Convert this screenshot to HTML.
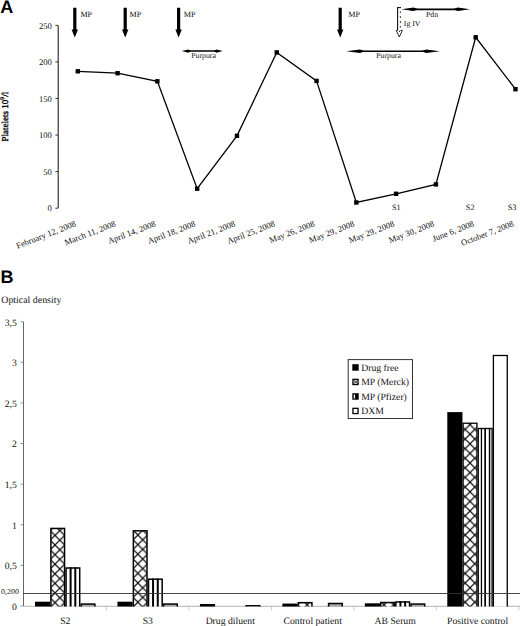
<!DOCTYPE html>
<html><head><meta charset="utf-8"><title>Figure</title>
<style>
html,body{margin:0;padding:0;background:#fff;}
body{width:520px;height:626px;overflow:hidden;font-family:"Liberation Serif", serif;}
svg{display:block;}
svg text{stroke:none;text-rendering:geometricPrecision;}
svg text.b{stroke:none;}
</style></head>
<body>
<svg width="520" height="626" viewBox="0 0 520 626">
<rect width="520" height="626" fill="#fff"/>
<text x="0.3" y="12.6" font-family='"Liberation Sans", sans-serif' font-weight="bold" font-size="18" class="b">A</text>
<line x1="58.2" y1="25.3" x2="58.2" y2="208.2" stroke="#222" stroke-width="1.1"/>
<line x1="55.4" y1="208.20" x2="58.0" y2="208.20" stroke="#333" stroke-width="1"/>
<text x="51.9" y="211.40" text-anchor="end" font-family='"Liberation Serif", serif' font-size="8.6" fill="#111">0</text>
<line x1="55.4" y1="171.62" x2="58.0" y2="171.62" stroke="#333" stroke-width="1"/>
<text x="51.9" y="174.82" text-anchor="end" font-family='"Liberation Serif", serif' font-size="8.6" fill="#111">50</text>
<line x1="55.4" y1="135.04" x2="58.0" y2="135.04" stroke="#333" stroke-width="1"/>
<text x="51.9" y="138.24" text-anchor="end" font-family='"Liberation Serif", serif' font-size="8.6" fill="#111">100</text>
<line x1="55.4" y1="98.46" x2="58.0" y2="98.46" stroke="#333" stroke-width="1"/>
<text x="51.9" y="101.66" text-anchor="end" font-family='"Liberation Serif", serif' font-size="8.6" fill="#111">150</text>
<line x1="55.4" y1="61.88" x2="58.0" y2="61.88" stroke="#333" stroke-width="1"/>
<text x="51.9" y="65.08" text-anchor="end" font-family='"Liberation Serif", serif' font-size="8.6" fill="#111">200</text>
<line x1="55.4" y1="25.30" x2="58.0" y2="25.30" stroke="#333" stroke-width="1"/>
<text x="51.9" y="28.50" text-anchor="end" font-family='"Liberation Serif", serif' font-size="8.6" fill="#111">250</text>
<text transform="translate(8.0,141.4) rotate(-90)" font-family='"Liberation Serif", serif' font-size="9" fill="#000" style="stroke:#000;stroke-width:0.35px">Platelets 10<tspan dy="-3.8" font-size="5.6">9</tspan><tspan dy="3.8">/l</tspan></text>
<polyline points="77.80,71.30 117.59,73.20 157.38,81.30 197.17,188.70 236.96,135.80 276.75,52.40 316.54,80.90 356.33,202.50 396.12,193.80 435.91,184.40 475.70,37.30 515.49,89.20" fill="none" stroke="#000" stroke-width="1.3" stroke-linejoin="miter"/>
<rect x="75.60" y="69.10" width="4.4" height="4.4" fill="#000"/>
<rect x="115.39" y="71.00" width="4.4" height="4.4" fill="#000"/>
<rect x="155.18" y="79.10" width="4.4" height="4.4" fill="#000"/>
<rect x="194.97" y="186.50" width="4.4" height="4.4" fill="#000"/>
<rect x="234.76" y="133.60" width="4.4" height="4.4" fill="#000"/>
<rect x="274.55" y="50.20" width="4.4" height="4.4" fill="#000"/>
<rect x="314.34" y="78.70" width="4.4" height="4.4" fill="#000"/>
<rect x="354.13" y="200.30" width="4.4" height="4.4" fill="#000"/>
<rect x="393.92" y="191.60" width="4.4" height="4.4" fill="#000"/>
<rect x="433.71" y="182.20" width="4.4" height="4.4" fill="#000"/>
<rect x="473.50" y="35.10" width="4.4" height="4.4" fill="#000"/>
<rect x="513.29" y="87.00" width="4.4" height="4.4" fill="#000"/>
<text transform="translate(76.60,226.0) rotate(-21)" text-anchor="end" font-family='"Liberation Serif", serif' font-size="8.6" fill="#111">February 12, 2008</text>
<text transform="translate(116.39,226.0) rotate(-21)" text-anchor="end" font-family='"Liberation Serif", serif' font-size="8.6" fill="#111">March 11, 2008</text>
<text transform="translate(156.18,226.0) rotate(-21)" text-anchor="end" font-family='"Liberation Serif", serif' font-size="8.6" fill="#111">April 14, 2008</text>
<text transform="translate(195.97,226.0) rotate(-21)" text-anchor="end" font-family='"Liberation Serif", serif' font-size="8.6" fill="#111">April 18, 2008</text>
<text transform="translate(235.76,226.0) rotate(-21)" text-anchor="end" font-family='"Liberation Serif", serif' font-size="8.6" fill="#111">April 21, 2008</text>
<text transform="translate(275.55,226.0) rotate(-21)" text-anchor="end" font-family='"Liberation Serif", serif' font-size="8.6" fill="#111">April 25, 2008</text>
<text transform="translate(315.34,226.0) rotate(-21)" text-anchor="end" font-family='"Liberation Serif", serif' font-size="8.6" fill="#111">May 26, 2008</text>
<text transform="translate(355.13,226.0) rotate(-21)" text-anchor="end" font-family='"Liberation Serif", serif' font-size="8.6" fill="#111">May 29, 2008</text>
<text transform="translate(394.92,226.0) rotate(-21)" text-anchor="end" font-family='"Liberation Serif", serif' font-size="8.6" fill="#111">May 29, 2008</text>
<text transform="translate(434.71,226.0) rotate(-21)" text-anchor="end" font-family='"Liberation Serif", serif' font-size="8.6" fill="#111">May 30, 2008</text>
<text transform="translate(474.50,226.0) rotate(-21)" text-anchor="end" font-family='"Liberation Serif", serif' font-size="8.6" fill="#111">June 6, 2008</text>
<text transform="translate(514.29,226.0) rotate(-21)" text-anchor="end" font-family='"Liberation Serif", serif' font-size="8.6" fill="#111">October 7, 2008</text>
<text x="396.4" y="209.6" text-anchor="middle" font-family='"Liberation Serif", serif' font-size="8.2" fill="#111">S1</text>
<text x="470.2" y="209.6" text-anchor="middle" font-family='"Liberation Serif", serif' font-size="8.2" fill="#111">S2</text>
<text x="512.0" y="209.6" text-anchor="middle" font-family='"Liberation Serif", serif' font-size="8.2" fill="#111">S3</text>
<path d="M73.20,7.7 L76.40,7.7 L76.40,29.50 L78.00,29.50 L74.80,37.5 L71.60,29.50 L73.20,29.50 Z" fill="#000"/>
<text x="80.40" y="16.6" font-family='"Liberation Serif", serif' font-size="8.1" fill="#111">MP</text>
<path d="M123.60,7.7 L126.80,7.7 L126.80,29.50 L128.40,29.50 L125.20,37.5 L122.00,29.50 L123.60,29.50 Z" fill="#000"/>
<text x="129.60" y="16.6" font-family='"Liberation Serif", serif' font-size="8.1" fill="#111">MP</text>
<path d="M177.00,7.7 L180.20,7.7 L180.20,29.50 L181.80,29.50 L178.60,37.5 L175.40,29.50 L177.00,29.50 Z" fill="#000"/>
<text x="183.80" y="16.6" font-family='"Liberation Serif", serif' font-size="8.1" fill="#111">MP</text>
<path d="M338.60,7.7 L341.80,7.7 L341.80,29.50 L343.40,29.50 L340.20,37.5 L337.00,29.50 L338.60,29.50 Z" fill="#000"/>
<text x="348.30" y="16.6" font-family='"Liberation Serif", serif' font-size="8.1" fill="#111">MP</text>
<line x1="186.30" y1="51.1" x2="218.30" y2="51.1" stroke="#000" stroke-width="1.5"/><path d="M181.80,51.1 L188.28,49.50 L190.80,51.1 L188.28,52.70 Z" fill="#000"/><path d="M222.80,51.1 L216.32,49.50 L213.80,51.1 L216.32,52.70 Z" fill="#000"/>
<text x="191.2" y="57.8" font-family='"Liberation Serif", serif' font-size="7.8" fill="#111">Purpura</text>
<line x1="355.70" y1="51.2" x2="430.40" y2="51.2" stroke="#000" stroke-width="1.5"/><path d="M346.20,51.2 L359.88,49.50 L365.20,51.2 L359.88,52.90 Z" fill="#000"/><path d="M439.90,51.2 L426.22,49.50 L420.90,51.2 L426.22,52.90 Z" fill="#000"/>
<text x="376.2" y="57.8" font-family='"Liberation Serif", serif' font-size="7.8" fill="#111">Purpura</text>
<line x1="409.90" y1="9.3" x2="461.50" y2="9.3" stroke="#000" stroke-width="1.8"/><path d="M401.40,9.3 L413.64,7.50 L418.40,9.3 L413.64,11.10 Z" fill="#000"/><path d="M470.00,9.3 L457.76,7.50 L453.00,9.3 L457.76,11.10 Z" fill="#000"/>
<text x="426" y="17.3" font-family='"Liberation Serif", serif' font-size="7.8" fill="#111">Pdn</text>
<path d="M397.6,7.6 V30.6" fill="none" stroke="#111" stroke-width="1.1"/>
<path d="M397.05,7.6 H400.95" fill="none" stroke="#111" stroke-width="1.1"/>
<path d="M400.4,7.6 V30.4" fill="none" stroke="#111" stroke-width="1.1" stroke-dasharray="1.4,3.5" stroke-dashoffset="1.05"/>
<path d="M397.6,30.4 H396.2 L399.3,37 L402.4,30.4 H400.4" fill="none" stroke="#111" stroke-width="0.9" stroke-linejoin="miter"/>
<rect x="398.9" y="30.8" width="1.1" height="1.1" fill="#222"/>
<text x="403.8" y="26.4" font-family='"Liberation Serif", serif' font-size="7.8" fill="#111">Ig IV</text>
<text x="0.5" y="283.0" font-family='"Liberation Sans", sans-serif' font-weight="bold" font-size="18" class="b">B</text>
<text x="1.3" y="303" font-family='"Liberation Serif", serif' font-size="9.9" fill="#111">Optical density</text>
<line x1="23.5" y1="321.69" x2="23.5" y2="606.0" stroke="#666" stroke-width="1"/>
<line x1="20.5" y1="606.00" x2="23.3" y2="606.00" stroke="#777" stroke-width="0.8"/>
<text x="16.8" y="609.90" text-anchor="end" font-family='"Liberation Serif", serif' font-size="9.7" fill="#111">0</text>
<line x1="20.5" y1="565.38" x2="23.3" y2="565.38" stroke="#777" stroke-width="0.8"/>
<text x="16.8" y="569.28" text-anchor="end" font-family='"Liberation Serif", serif' font-size="9.7" fill="#111">0,5</text>
<line x1="20.5" y1="524.77" x2="23.3" y2="524.77" stroke="#777" stroke-width="0.8"/>
<text x="16.8" y="528.67" text-anchor="end" font-family='"Liberation Serif", serif' font-size="9.7" fill="#111">1</text>
<line x1="20.5" y1="484.15" x2="23.3" y2="484.15" stroke="#777" stroke-width="0.8"/>
<text x="16.8" y="488.05" text-anchor="end" font-family='"Liberation Serif", serif' font-size="9.7" fill="#111">1,5</text>
<line x1="20.5" y1="443.54" x2="23.3" y2="443.54" stroke="#777" stroke-width="0.8"/>
<text x="16.8" y="447.44" text-anchor="end" font-family='"Liberation Serif", serif' font-size="9.7" fill="#111">2</text>
<line x1="20.5" y1="402.92" x2="23.3" y2="402.92" stroke="#777" stroke-width="0.8"/>
<text x="16.8" y="406.82" text-anchor="end" font-family='"Liberation Serif", serif' font-size="9.7" fill="#111">2,5</text>
<line x1="20.5" y1="362.31" x2="23.3" y2="362.31" stroke="#777" stroke-width="0.8"/>
<text x="16.8" y="366.21" text-anchor="end" font-family='"Liberation Serif", serif' font-size="9.7" fill="#111">3</text>
<line x1="20.5" y1="321.69" x2="23.3" y2="321.69" stroke="#777" stroke-width="0.8"/>
<text x="16.8" y="325.59" text-anchor="end" font-family='"Liberation Serif", serif' font-size="9.7" fill="#111">3,5</text>
<text x="1.0" y="593.6" textLength="18.0" lengthAdjust="spacingAndGlyphs" font-family='"Liberation Serif", serif' font-size="7.4" fill="#111">0,200</text>
<line x1="23.3" y1="606.3" x2="520" y2="606.3" stroke="#aaa" stroke-width="0.9"/>
<line x1="106.56" y1="606.0" x2="106.56" y2="610.5" stroke="#bbb" stroke-width="0.7"/>
<line x1="189.02" y1="606.0" x2="189.02" y2="610.5" stroke="#bbb" stroke-width="0.7"/>
<line x1="271.48" y1="606.0" x2="271.48" y2="610.5" stroke="#bbb" stroke-width="0.7"/>
<line x1="353.94" y1="606.0" x2="353.94" y2="610.5" stroke="#bbb" stroke-width="0.7"/>
<line x1="436.40" y1="606.0" x2="436.40" y2="610.5" stroke="#bbb" stroke-width="0.7"/>
<line x1="518.86" y1="606.0" x2="518.86" y2="610.5" stroke="#bbb" stroke-width="0.7"/>
<defs>
<pattern id="xh0" patternUnits="userSpaceOnUse" width="9.6" height="9.6" x="7.0" y="7.4">
<rect width="9.6" height="9.6" fill="#fff"/>
<path d="M-1,-1 L10.6,10.6 M10.6,-1 L-1,10.6" stroke="#111" stroke-width="1.2"/>
</pattern>
<pattern id="xh1" patternUnits="userSpaceOnUse" width="9.6" height="9.6" x="3.5" y="7.0">
<rect width="9.6" height="9.6" fill="#fff"/>
<path d="M-1,-1 L10.6,10.6 M10.6,-1 L-1,10.6" stroke="#111" stroke-width="1.2"/>
</pattern>
<pattern id="xh5" patternUnits="userSpaceOnUse" width="9.6" height="9.6" x="9.2" y="2.2">
<rect width="9.6" height="9.6" fill="#fff"/>
<path d="M-1,-1 L10.6,10.6 M10.6,-1 L-1,10.6" stroke="#111" stroke-width="1.2"/>
</pattern>
<pattern id="xh" patternUnits="userSpaceOnUse" width="9.6" height="9.6" x="0" y="0">
<rect width="9.6" height="9.6" fill="#fff"/>
<path d="M-1,-1 L10.6,10.6 M10.6,-1 L-1,10.6" stroke="#111" stroke-width="1.2"/>
</pattern>
<pattern id="vs" patternUnits="userSpaceOnUse" width="4.6" height="10" x="66.8">
<rect width="4.6" height="10" fill="#fff"/>
<rect x="2.8" width="2.2" height="10" fill="#000"/>
</pattern>
</defs>
<defs><clipPath id="pc"><rect x="0" y="300" width="520" height="306.4"/></clipPath></defs>
<g clip-path="url(#pc)">
<rect x="35.00" y="601.69" width="15.15" height="5.31" fill="#000"/>
<rect x="50.90" y="528.44" width="13.65" height="80.31" fill="url(#xh0)" stroke="#000" stroke-width="1.5"/>
<rect x="66.05" y="568.00" width="13.65" height="40.75" fill="#fff" stroke="#000" stroke-width="1.5"/>
<rect x="69.60" y="567.25" width="2.0" height="39.75" fill="#000"/>
<rect x="74.30" y="567.25" width="2.0" height="39.75" fill="#000"/>
<rect x="81.20" y="604.07" width="13.65" height="4.68" fill="#aaa" stroke="#000" stroke-width="1.5"/>
<rect x="117.46" y="601.69" width="15.15" height="5.31" fill="#000"/>
<rect x="133.36" y="530.80" width="13.65" height="77.95" fill="url(#xh1)" stroke="#000" stroke-width="1.5"/>
<rect x="148.51" y="579.21" width="13.65" height="29.54" fill="#fff" stroke="#000" stroke-width="1.5"/>
<rect x="152.06" y="578.46" width="2.0" height="28.54" fill="#000"/>
<rect x="156.76" y="578.46" width="2.0" height="28.54" fill="#000"/>
<rect x="163.66" y="604.07" width="13.65" height="4.68" fill="#aaa" stroke="#000" stroke-width="1.5"/>
<rect x="199.92" y="603.97" width="15.15" height="3.03" fill="#000"/>
<rect x="246.12" y="605.78" width="13.65" height="2.97" fill="#aaa" stroke="#000" stroke-width="1.5"/>
<rect x="282.38" y="603.56" width="15.15" height="3.44" fill="#000"/>
<rect x="298.28" y="602.69" width="13.65" height="6.06" fill="url(#xh)" stroke="#000" stroke-width="1.5"/>
<rect x="328.58" y="603.50" width="13.65" height="5.25" fill="#aaa" stroke="#000" stroke-width="1.5"/>
<rect x="364.84" y="603.32" width="15.15" height="3.68" fill="#000"/>
<rect x="380.74" y="602.53" width="13.65" height="6.22" fill="url(#xh)" stroke="#000" stroke-width="1.5"/>
<rect x="395.89" y="601.96" width="13.65" height="6.79" fill="#fff" stroke="#000" stroke-width="1.5"/>
<rect x="399.44" y="601.21" width="2.0" height="5.79" fill="#000"/>
<rect x="404.14" y="601.21" width="2.0" height="5.79" fill="#000"/>
<rect x="411.04" y="604.07" width="13.65" height="4.68" fill="#aaa" stroke="#000" stroke-width="1.5"/>
<rect x="447.30" y="412.10" width="15.15" height="194.90" fill="#000"/>
<rect x="463.10" y="423.23" width="13.85" height="185.42" fill="url(#xh5)" stroke="#000" stroke-width="1.3"/>
<rect x="478.25" y="428.51" width="13.85" height="180.14" fill="#fff" stroke="#000" stroke-width="1.3"/>
<rect x="480.80" y="427.86" width="1.3" height="179.14" fill="#000"/>
<rect x="484.30" y="427.86" width="1.7" height="179.14" fill="#000"/>
<rect x="488.80" y="427.86" width="1.5" height="179.14" fill="#000"/>
<rect x="493.40" y="355.49" width="13.85" height="253.16" fill="#fff" stroke="#000" stroke-width="1.3"/>
</g>
<line x1="23.3" y1="593.5" x2="520" y2="593.5" stroke="#333" stroke-width="0.9"/>
<text x="65.33" y="624.4" text-anchor="middle" font-family='"Liberation Serif", serif' font-size="9.7" fill="#111">S2</text>
<text x="147.79" y="624.4" text-anchor="middle" font-family='"Liberation Serif", serif' font-size="9.7" fill="#111">S3</text>
<text x="230.25" y="624.4" text-anchor="middle" font-family='"Liberation Serif", serif' font-size="9.7" fill="#111">Drug diluent</text>
<text x="312.71" y="624.4" text-anchor="middle" font-family='"Liberation Serif", serif' font-size="9.7" fill="#111">Control patient</text>
<text x="395.17" y="624.4" text-anchor="middle" font-family='"Liberation Serif", serif' font-size="9.7" fill="#111">AB Serum</text>
<text x="477.63" y="624.4" text-anchor="middle" font-family='"Liberation Serif", serif' font-size="9.7" fill="#111">Positive control</text>
<rect x="348.2" y="359.6" width="64.3" height="58.9" fill="#fff" stroke="#333" stroke-width="1"/>
<rect x="352.3" y="364.20" width="6.4" height="6.5" fill="#000"/>
<text x="361.2" y="370.80" font-family='"Liberation Serif", serif' font-size="9.7" fill="#111">Drug free</text>
<rect x="352.95" y="379.35" width="5.1" height="5.2" fill="#fff" stroke="#000" stroke-width="1.3"/>
<path d="M353.4,379.80 L357.8,384.10 M357.8,379.80 L353.4,384.10" stroke="#222" stroke-width="1"/>
<text x="361.2" y="385.30" font-family='"Liberation Serif", serif' font-size="9.7" fill="#111">MP (Merck)</text>
<rect x="352.3" y="393.20" width="6.4" height="6.5" fill="#000"/>
<rect x="353.7" y="394.50" width="1.4" height="4.0" fill="#fff"/>
<text x="361.2" y="399.80" font-family='"Liberation Serif", serif' font-size="9.7" fill="#111">MP (Pfizer)</text>
<rect x="352.95" y="408.35" width="5.1" height="5.2" fill="#fff" stroke="#000" stroke-width="1.3"/>
<text x="361.2" y="414.30" font-family='"Liberation Serif", serif' font-size="9.7" fill="#111">DXM</text>
</svg>
</body></html>
